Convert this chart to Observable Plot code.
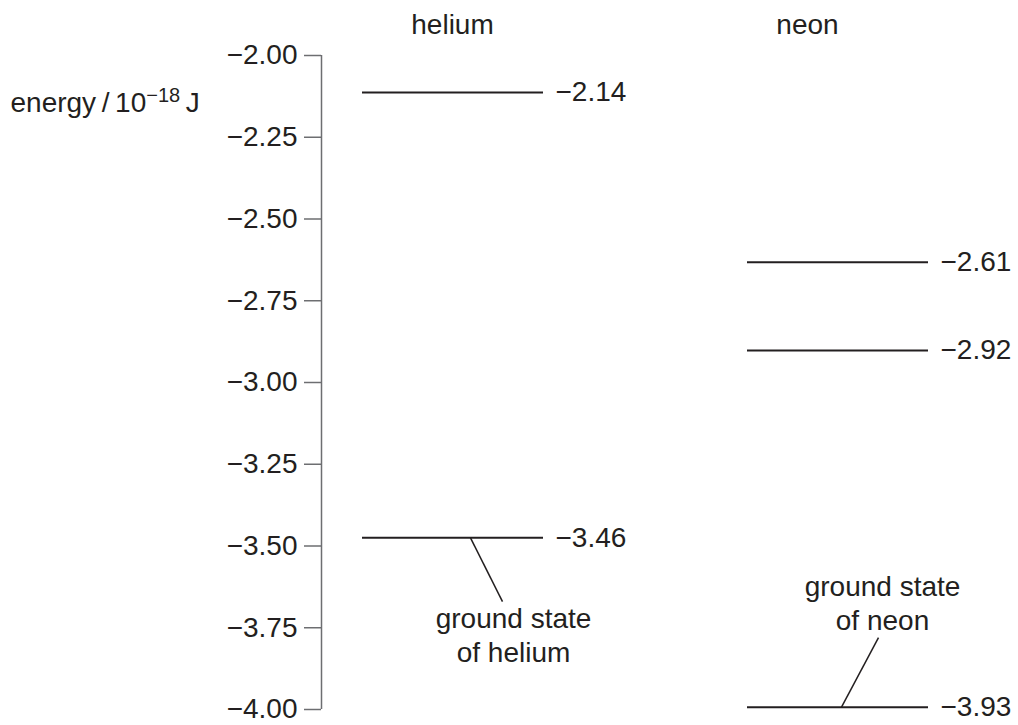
<!DOCTYPE html>
<html>
<head>
<meta charset="utf-8">
<script src="https://cdn.jsdelivr.net/npm/d3@7"></script>
<script src="https://cdn.jsdelivr.net/npm/@observablehq/plot@0.6"></script>
<style>
  html, body { margin: 0; padding: 0; background: #fff; }
  #chart svg { display: block; }
</style>
</head>
<body>
<div id="chart"></div>
<script>
// ---- data ----
const atoms = ["helium", "neon"];
const levelAtom = ["helium", "helium", "neon", "neon", "neon"];
const levelValue = [-2.14, -3.46, -2.61, -2.92, -3.93];        // printed values
const levelDrawnAt = [-2.113, -3.475, -2.632, -2.902, -3.993]; // where the level line sits on the axis (schematic)
const groundAtom = ["helium", "neon"];
const groundText = ["ground state\nof helium", "ground state\nof neon"];
const groundLevel = [-3.475, -3.993];       // level the leader starts on
const groundLeaderEnd = [-3.670, -3.780];   // leader end near the text
const groundTextBaseline = [-3.856, -3.758];
const yTicks = [-2.00, -2.25, -2.50, -2.75, -3.00, -3.25, -3.50, -3.75, -4.00];
const yLabel = "energy\u2009/\u200910";
const yLabelSup = "\u221218";
const yLabelUnit = "\u2009J";

// ---- layout (horizontal positions in px from the axis) ----
const col = {
  helium: {x1: 41, x2: 222, title: 131, text: 192, leadLow: 149, leadHigh: 181},
  neon:   {x1: 426, x2: 607, title: 486, text: 561, leadLow: 520, leadHigh: 557}
};

const levels = levelAtom.map((a, i) => ({atom: a, value: levelValue[i], drawn: levelDrawnAt[i]}));
const grounds = groundAtom.map((a, i) => ({atom: a, text: groundText[i], level: groundLevel[i], end: groundLeaderEnd[i], base: groundTextBaseline[i]}));

const ink = "#231f20";
const axisInk = "#6d6e71";
const fmt = d3.format(".2f");
const FS = 28;

const chart = Plot.plot({
  width: 1018,
  height: 725,
  marginLeft: 321,
  marginRight: 0,
  marginTop: 55,
  marginBottom: 16,
  x: {domain: [0, 697], axis: null},
  y: {domain: [-4, -2], axis: null},
  style: {fontFamily: "'Liberation Sans', Arial, Helvetica, sans-serif", fontSize: FS + "px", color: ink, background: "#fff", overflow: "visible"},
  marks: [
    Plot.axisY({ticks: yTicks, tickFormat: fmt, tickSize: 17, tickPadding: 7, fontSize: FS, stroke: axisInk, strokeWidth: 1.5, fill: ink, strokeOpacity: 1, anchor: "left"}),
    Plot.ruleX([0], {y1: -4, y2: -2, stroke: axisInk, strokeWidth: 1.5}),
    // y label
    Plot.text([yLabel], {x: -311, y: -2.174, text: d => d, textAnchor: "start", lineAnchor: "bottom", fill: ink, fontSize: FS, className: "ylabel"}),
    // column titles
    Plot.text(atoms, {x: d => col[d].title, y: -2, text: d => d, dy: -22, lineAnchor: "bottom", fill: ink, fontSize: FS}),
    // energy levels
    Plot.ruleY(levels, {y: "drawn", x1: d => col[d.atom].x1, x2: d => col[d.atom].x2, stroke: ink, strokeWidth: 2}),
    Plot.text(levels, {x: d => col[d.atom].x2, y: "drawn", text: d => fmt(d.value), dx: 12, textAnchor: "start", fill: ink, fontSize: FS}),
    // ground state leaders
    Plot.link(grounds, {x1: d => col[d.atom].leadLow, y1: "level", x2: d => col[d.atom].leadHigh, y2: "end", stroke: ink, strokeWidth: 1.5}),
    Plot.text(grounds, {x: d => col[d.atom].text, y: "base", text: "text", lineAnchor: "bottom", lineHeight: 1.22, fill: ink, fontSize: FS})
  ]
});

document.getElementById("chart").appendChild(chart);

// superscript in the y label
const t = d3.select(chart).select("g.ylabel text");
if (!t.empty()) {
  t.text(null);
  t.append("tspan").text(yLabel);
  t.append("tspan").attr("dy", "-10").attr("font-size", "20px").text(yLabelSup);
  t.append("tspan").attr("dy", "10").text(yLabelUnit);
}
</script>
</body>
</html>
